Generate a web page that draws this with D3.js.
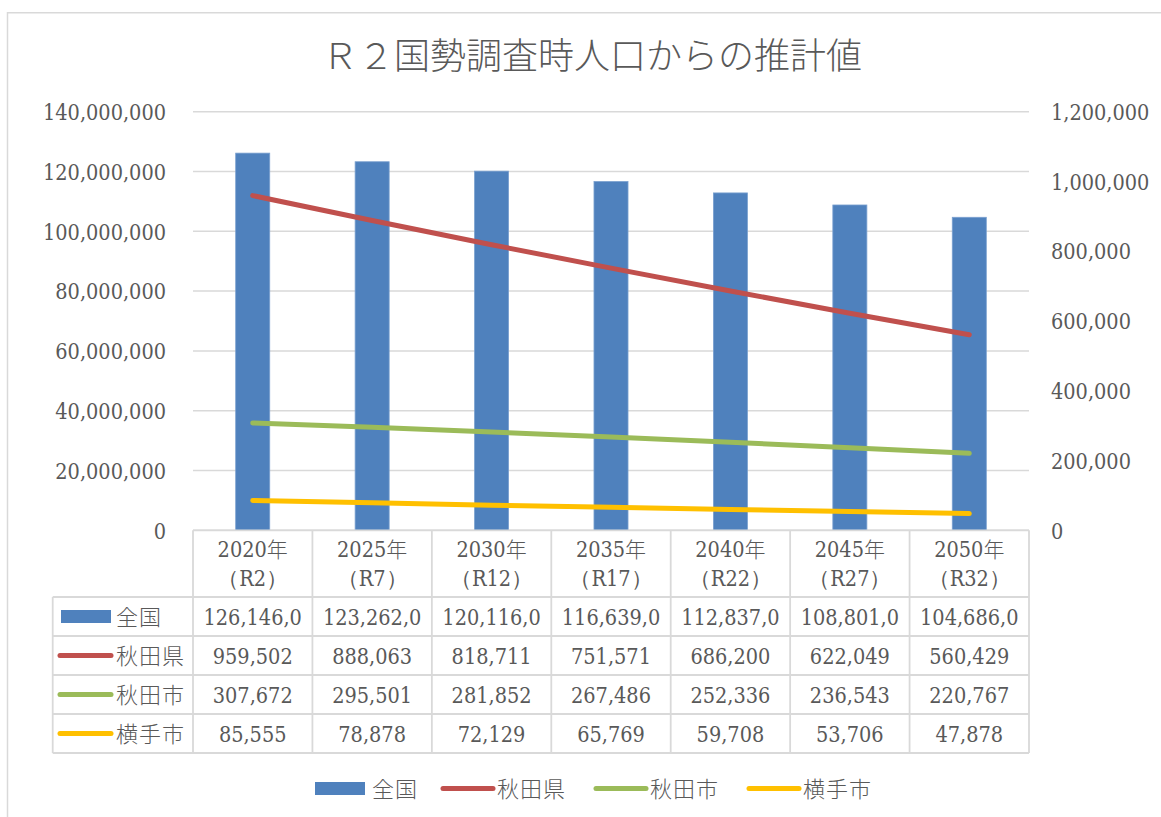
<!DOCTYPE html>
<html>
<head>
<meta charset="utf-8">
<script src="https://cdn.jsdelivr.net/npm/d3@7"></script>
<style>
  html, body { margin: 0; padding: 0; background: #fff; }
  svg { display: block; }
  .num { font-family: 'DejaVu Serif Condensed', 'DejaVu Serif', serif; font-stretch: condensed; }
</style>
</head>
<body>
<svg id="chart" width="1161" height="817"></svg>
<script>
// ---- data ----
const title = "Ｒ２国勢調査時人口からの推計値";
const years = ["2020年", "2025年", "2030年", "2035年", "2040年", "2045年", "2050年"];
const eras = ["（R2）", "（R7）", "（R12）", "（R17）", "（R22）", "（R27）", "（R32）"];
const zenkoku = [126146000, 123262000, 120116000, 116639000, 112837000, 108801000, 104686000];
const akitaKen = [959502, 888063, 818711, 751571, 686200, 622049, 560429];
const akitaShi = [307672, 295501, 281852, 267486, 252336, 236543, 220767];
const yokote = [85555, 78878, 72129, 65769, 59708, 53706, 47878];
const leftTicks = [0, 20000000, 40000000, 60000000, 80000000, 100000000, 120000000, 140000000];
const rightTicks = [0, 200000, 400000, 600000, 800000, 1000000, 1200000];
const seriesNames = ["全国", "秋田県", "秋田市", "横手市"];
const seriesColors = ["#4f81bd", "#c0504d", "#9bbb59", "#ffc000"];

// ---- layout ----
const svg = d3.select("#chart");
const L = 193, R = 1029, T = 111.7, B = 530.3;
const textColor = "#595959";
const gridColor = "#d9d9d9";
const numSize = 21.5;
const cjkFont = "'Noto Sans CJK JP', 'Noto Sans', sans-serif";

// outer frame
svg.append("path")
  .attr("d", "M7.5,1000 L7.5,12.75 L1200,12.75")
  .attr("fill", "none").attr("stroke", gridColor).attr("stroke-width", 1.5);

// title
svg.append("text")
  .attr("x", 592).attr("y", 69)
  .attr("text-anchor", "middle")
  .attr("font-family", cjkFont).attr("font-weight", 300)
  .attr("font-size", 36).attr("fill", textColor)
  .text(title);

const x = d3.scaleBand().domain(years).range([L, R]).paddingInner(0).paddingOuter(0);
const yL = d3.scaleLinear().domain([0, 140000000]).range([B, T]);
const yR = d3.scaleLinear().domain([0, 1200000]).range([B, T]);
const fmt = d3.format(",");

// gridlines
svg.append("g").selectAll("line").data(leftTicks).join("line")
  .attr("x1", L).attr("x2", R)
  .attr("y1", d => yL(d)).attr("y2", d => yL(d))
  .attr("stroke", gridColor).attr("stroke-width", 1.5);

// left axis
const axL = svg.append("g").attr("transform", `translate(${L - 27},0)`)
  .call(d3.axisLeft(yL).tickValues(leftTicks).tickFormat(fmt).tickSize(0).tickPadding(0));
axL.select(".domain").remove();
axL.selectAll("text").attr("class", "num").attr("font-size", numSize).attr("fill", textColor).attr("dy", "0.36em");

// right axis
const axR = svg.append("g").attr("transform", `translate(${R + 22},0)`)
  .call(d3.axisRight(yR).tickValues(rightTicks).tickFormat(fmt).tickSize(0).tickPadding(0));
axR.select(".domain").remove();
axR.selectAll("text").attr("class", "num").attr("font-size", numSize).attr("fill", textColor).attr("dy", "0.36em");
axL.attr("font-family", null); axR.attr("font-family", null);

// bars
const bw = x.bandwidth() * 0.285;
svg.append("g").selectAll("rect").data(zenkoku).join("rect")
  .attr("x", (d, i) => x(years[i]) + x.bandwidth() / 2 - bw / 2)
  .attr("width", bw)
  .attr("y", d => yL(d))
  .attr("height", d => B - yL(d))
  .attr("fill", seriesColors[0])
  .attr("stroke", "#7aa0cf").attr("stroke-width", 0.8);

// lines
const lineSeries = [akitaKen, akitaShi, yokote];
const line = d3.line().x((d, i) => x(years[i]) + x.bandwidth() / 2).y(d => yR(d));
svg.append("g").selectAll("path").data(lineSeries).join("path")
  .attr("d", d => line(d))
  .attr("fill", "none")
  .attr("stroke", (d, i) => seriesColors[i + 1])
  .attr("stroke-width", 5)
  .attr("stroke-linecap", "round").attr("stroke-linejoin", "round");

// ---- data table ----
const rowH = 39;
const headTop = B, headBot = 597;
const tableLeft = 52.7;
const allSeries = [zenkoku, akitaKen, akitaShi, yokote];
const tg = svg.append("g");

// horizontal lines
const hLines = [{ x1: L, y: headTop }, { x1: tableLeft, y: headBot }];
for (let r = 1; r <= 4; r++) hLines.push({ x1: tableLeft, y: headBot + r * rowH });
tg.selectAll("line.h").data(hLines).join("line").attr("class", "h")
  .attr("x1", d => d.x1).attr("x2", R).attr("y1", d => d.y).attr("y2", d => d.y)
  .attr("stroke", gridColor).attr("stroke-width", 1.8);
// vertical lines
const vLines = [{ x: tableLeft, y1: headBot }];
years.forEach(y => vLines.push({ x: x(y), y1: headTop }));
vLines.push({ x: R, y1: headTop });
tg.selectAll("line.v").data(vLines).join("line").attr("class", "v")
  .attr("x1", d => d.x).attr("x2", d => d.x).attr("y1", d => d.y1).attr("y2", headBot + 4 * rowH)
  .attr("stroke", gridColor).attr("stroke-width", 1.8);

// header text
years.forEach((yr, i) => {
  const cx = x(yr) + x.bandwidth() / 2;
  const t = tg.append("text").attr("x", cx).attr("y", 557).attr("text-anchor", "middle")
    .attr("font-size", 21).attr("fill", textColor);
  t.append("tspan").attr("class", "num").attr("font-size", numSize).text(yr.replace("年", ""));
  t.append("tspan").attr("font-family", cjkFont).attr("font-weight", 300).text("年");
  tg.append("text").attr("x", cx).attr("y", 586).attr("text-anchor", "middle")
    .attr("class", "num").attr("font-size", numSize).attr("fill", textColor)
    .text(eras[i]);
});

// cell values
allSeries.forEach((vals, r) => {
  const cy = headBot + r * rowH + 28;
  vals.forEach((v, i) => {
    const cx = x(years[i]) + x.bandwidth() / 2;
    const t = tg.append("text").attr("x", cx).attr("y", cy).attr("text-anchor", "middle")
      .attr("class", "num").attr("font-size", numSize).attr("fill", textColor);
    let s = fmt(v);
    t.text(s);
    while (t.node().getComputedTextLength() > x.bandwidth() - 16 && s.length > 1) {
      s = s.slice(0, -1);
      t.text(s);
    }
  });
  // legend key in table
  const ky = headBot + r * rowH + rowH / 2;
  if (r === 0) {
    tg.append("rect").attr("x", 61).attr("y", ky - 6.5).attr("width", 50).attr("height", 13)
      .attr("fill", seriesColors[0]);
  } else {
    tg.append("line").attr("x1", 60).attr("x2", 111).attr("y1", ky).attr("y2", ky)
      .attr("stroke", seriesColors[r]).attr("stroke-width", 5).attr("stroke-linecap", "round");
  }
  tg.append("text").attr("x", 116).attr("y", ky + 8)
    .attr("font-family", cjkFont).attr("font-weight", 300).attr("font-size", 22).attr("fill", textColor)
    .attr("letter-spacing", 1)
    .text(seriesNames[r]);
});

// ---- bottom legend ----
const legX = [315, 441, 594, 747];
const lg = svg.append("g");
seriesNames.forEach((name, i) => {
  const ly = 788.5;
  if (i === 0) {
    lg.append("rect").attr("x", legX[i]).attr("y", ly - 6.5).attr("width", 50).attr("height", 13)
      .attr("fill", seriesColors[0]);
  } else {
    lg.append("line").attr("x1", legX[i] + 2).attr("x2", legX[i] + 52).attr("y1", ly).attr("y2", ly)
      .attr("stroke", seriesColors[i]).attr("stroke-width", 5).attr("stroke-linecap", "round");
  }
  lg.append("text").attr("x", legX[i] + (i === 0 ? 57 : 56)).attr("y", ly + 8)
    .attr("font-family", cjkFont).attr("font-weight", 300).attr("font-size", 22).attr("fill", textColor)
    .attr("letter-spacing", 1)
    .text(name);
});
</script>
</body>
</html>
